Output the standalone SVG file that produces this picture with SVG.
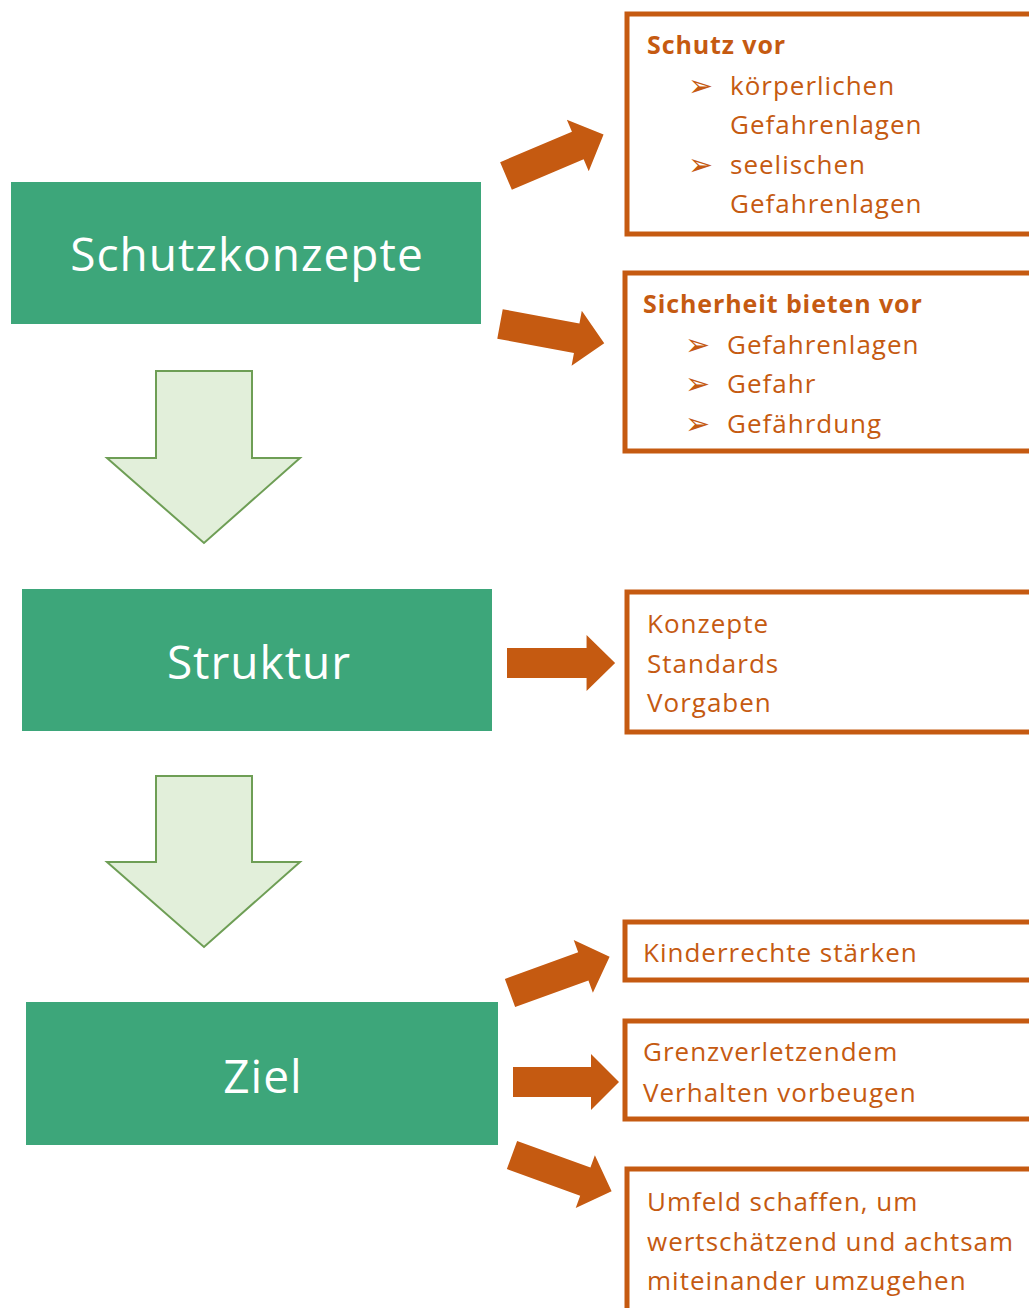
<svg xmlns="http://www.w3.org/2000/svg" width="1029" height="1308" viewBox="0 0 1029 1308">
<style>
.gbox{fill:#3DA67A;}
.gtxt{fill:#FFFFFF;font-family:"Open Sans","Liberation Sans",sans-serif;font-size:46px;letter-spacing:1px;text-anchor:middle;}
.down{fill:#E2EFDA;stroke:#6E9E55;stroke-width:2;}
.obox{fill:#FFFFFF;stroke:#C55A11;stroke-width:5;}
.otxt{fill:#C55A11;font-family:"Open Sans","Liberation Sans",sans-serif;font-size:26px;letter-spacing:1px;}
.obold{fill:#C55A11;font-family:"Open Sans","Liberation Sans",sans-serif;font-size:25px;font-weight:bold;letter-spacing:0.9px;}
.bul{fill:#C55A11;font-family:"DejaVu Sans",sans-serif;font-size:30px;}
.oarr{fill:#C55A11;}
</style>
<defs>
<path id="barrow" d="M0,-15 L78,-15 L78,-28 L106,0 L78,28 L78,15 L0,15 Z"/>
</defs>
<rect width="1029" height="1308" fill="#FFFFFF"/>

<g id="connectors">
<polygon class="down" points="156,371 252,371 252,458 300,458 204,543 107,458 156,458"/>
<polygon class="down" points="156,776 252,776 252,862 300,862 204,947 107,862 156,862"/>
<use href="#barrow" class="oarr" transform="translate(506,176) rotate(-23)"/>
<use href="#barrow" class="oarr" transform="translate(500,324) rotate(10.5)"/>
<use href="#barrow" class="oarr" transform="translate(507,663) scale(1.02,1)"/>
<use href="#barrow" class="oarr" transform="translate(510,993) rotate(-20)"/>
<use href="#barrow" class="oarr" transform="translate(513,1082)"/>
<use href="#barrow" class="oarr" transform="translate(512,1155) rotate(20)"/>
</g>

<g id="node-schutzkonzepte">
<rect class="gbox" x="11" y="182" width="470" height="142"/>
<text class="gtxt" x="247" y="271">Schutzkonzepte</text>
</g>
<g id="node-struktur">
<rect class="gbox" x="22" y="589" width="470" height="142"/>
<text class="gtxt" x="259" y="679">Struktur</text>
</g>
<g id="node-ziel">
<rect class="gbox" x="26" y="1002" width="472" height="143"/>
<text class="gtxt" x="263" y="1093">Ziel</text>
</g>

<g id="node-schutz-vor">
<rect class="obox" x="627" y="14" width="420" height="220"/>
<text class="obold" x="647" y="54">Schutz vor</text>
<text class="bul" x="688" y="96">➢</text>
<text class="otxt" x="730" y="95">körperlichen</text>
<text class="otxt" x="730" y="134">Gefahrenlagen</text>
<text class="bul" x="688" y="175">➢</text>
<text class="otxt" x="730" y="174">seelischen</text>
<text class="otxt" x="730" y="213">Gefahrenlagen</text>
</g>

<g id="node-sicherheit">
<rect class="obox" x="625" y="273" width="420" height="178"/>
<text class="obold" x="643" y="313">Sicherheit bieten vor</text>
<text class="bul" x="685" y="355">➢</text>
<text class="otxt" x="727" y="354">Gefahrenlagen</text>
<text class="bul" x="685" y="394">➢</text>
<text class="otxt" x="727" y="393">Gefahr</text>
<text class="bul" x="685" y="434">➢</text>
<text class="otxt" x="727" y="433">Gefährdung</text>
</g>

<g id="node-konzepte">
<rect class="obox" x="627" y="592" width="420" height="140"/>
<text class="otxt" x="647" y="633">Konzepte</text>
<text class="otxt" x="647" y="673">Standards</text>
<text class="otxt" x="647" y="712">Vorgaben</text>
</g>

<g id="node-kinderrechte">
<rect class="obox" x="625" y="922" width="420" height="58"/>
<text class="otxt" x="643" y="962">Kinderrechte stärken</text>
</g>

<g id="node-grenzverletzend">
<rect class="obox" x="625" y="1021" width="420" height="98"/>
<text class="otxt" x="643" y="1061">Grenzverletzendem</text>
<text class="otxt" x="643" y="1102">Verhalten vorbeugen</text>
</g>

<g id="node-umfeld">
<rect class="obox" x="627" y="1169" width="420" height="160"/>
<text class="otxt" x="647" y="1211">Umfeld schaffen, um</text>
<text class="otxt" x="647" y="1251">wertschätzend und achtsam</text>
<text class="otxt" x="647" y="1290">miteinander umzugehen</text>
</g>
</svg>
